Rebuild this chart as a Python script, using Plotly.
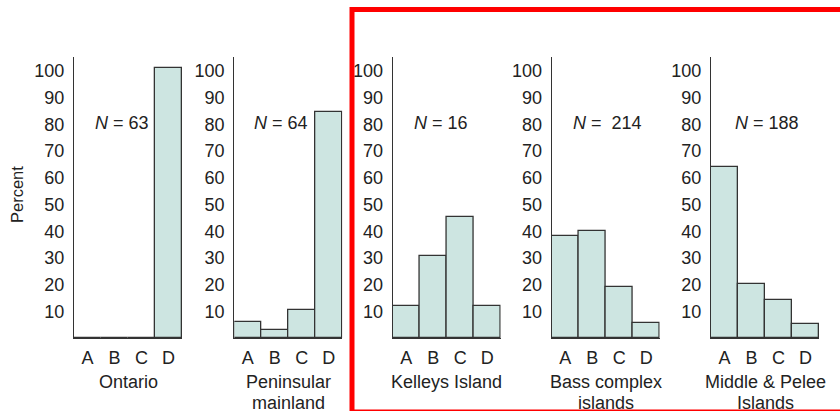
import plotly.graph_objects as go

categories = ["A", "B", "C", "D"]
ontario = [0, 0, 0, 101]
peninsular = [5.9, 2.9, 10.4, 84.5]
kelleys = [12.1, 30.6, 45.2, 12.1]
bass = [38.3, 40.2, 19.1, 5.6]
middle = [64.0, 20.3, 14.1, 5.4]
series = [ontario, peninsular, kelleys, bass, middle]
panel_titles = [["Ontario"], ["Peninsular", "mainland"], ["Kelleys Island"],
                ["Bass complex", "islands"], ["Middle &amp; Pelee", "Islands"]]
n_labels = ["<i>N</i> = 63", "<i>N</i> = 64", "<i>N</i> = 16",
            "<i>N</i> =  214", "<i>N</i> = 188"]
y_ticks = [10, 20, 30, 40, 50, 60, 70, 80, 90, 100]

W, H = 840, 411
FONT = "Liberation Sans, Arial, sans-serif"
TXT = "#222222"
FILL = "#cde5e1"
EDGE = "#333333"

# panel pixel extents (axis line to end of last bar)
px_left = [74, 234.3, 392.7, 551.7, 711]
px_width = 108
y_bottom_px, y_top_px = 338, 57
scale = 2.67  # px per percent
y_max = (y_bottom_px - y_top_px) / scale
title_line_px = [382, 402.5]

fig = go.Figure()
annotations = []
for i, vals in enumerate(series):
    xa = "x" if i == 0 else f"x{i+1}"
    ya = "y" if i == 0 else f"y{i+1}"
    fig.add_trace(go.Bar(x=categories, y=vals, xaxis=xa, yaxis=ya,
                         marker=dict(color=FILL, line=dict(color=EDGE, width=1.3)),
                         showlegend=False, hoverinfo="skip"))
    xk = "xaxis" if i == 0 else f"xaxis{i+1}"
    yk = "yaxis" if i == 0 else f"yaxis{i+1}"
    x0 = px_left[i] / W
    x1 = (px_left[i] + px_width) / W
    fig.layout[xk] = dict(domain=[x0, x1], anchor=ya, range=[-0.5, 3.5],
                          showline=True, linecolor=EDGE, linewidth=1.3,
                          ticks="", showgrid=False, zeroline=False,
                          tickfont=dict(family=FONT, size=18, color=TXT),
                          ticklabelstandoff=3, fixedrange=True)
    fig.layout[yk] = dict(domain=[(H - y_bottom_px) / H, (H - y_top_px) / H],
                          anchor=xa, range=[0, y_max],
                          showline=True, linecolor=EDGE, linewidth=1.3,
                          ticks="", showgrid=False, zeroline=False,
                          tickvals=y_ticks,
                          tickfont=dict(family=FONT, size=18, color=TXT),
                          ticklabelstandoff=5, fixedrange=True)
    cx = (px_left[i] + px_width / 2) / W
    for j, line in enumerate(panel_titles[i]):
        annotations.append(dict(text=line, xref="paper", yref="paper",
                                x=cx, y=1 - title_line_px[j] / H,
                                xanchor="center", yanchor="middle",
                                showarrow=False,
                                font=dict(family=FONT, size=18, color=TXT)))

n_centers = [122, 281, 441, 607, 767]
for i, t in enumerate(n_labels):
    annotations.append(dict(text=t, xref="paper", yref="paper",
                            x=n_centers[i] / W, y=1 - 123 / H,
                            xanchor="center", yanchor="middle", showarrow=False,
                            font=dict(family=FONT, size=18, color=TXT)))

annotations.append(dict(text="Percent", xref="paper", yref="paper",
                        x=17 / W, y=1 - 195 / H, xanchor="center", yanchor="middle",
                        textangle=-90, showarrow=False,
                        font=dict(family=FONT, size=16.5, color=TXT)))

fig.update_layout(
    width=W, height=H, margin=dict(l=0, r=0, t=0, b=0),
    paper_bgcolor="white", plot_bgcolor="white",
    bargap=0, annotations=annotations,
    shapes=[dict(type="rect", xref="paper", yref="paper",
                 x0=352 / W, x1=1.03, y0=1 - 412 / H, y1=1 - 9.5 / H,
                 line=dict(color="#ff0000", width=5))],
)

fig.write_html("out.html", config={"displayModeBar": False})
